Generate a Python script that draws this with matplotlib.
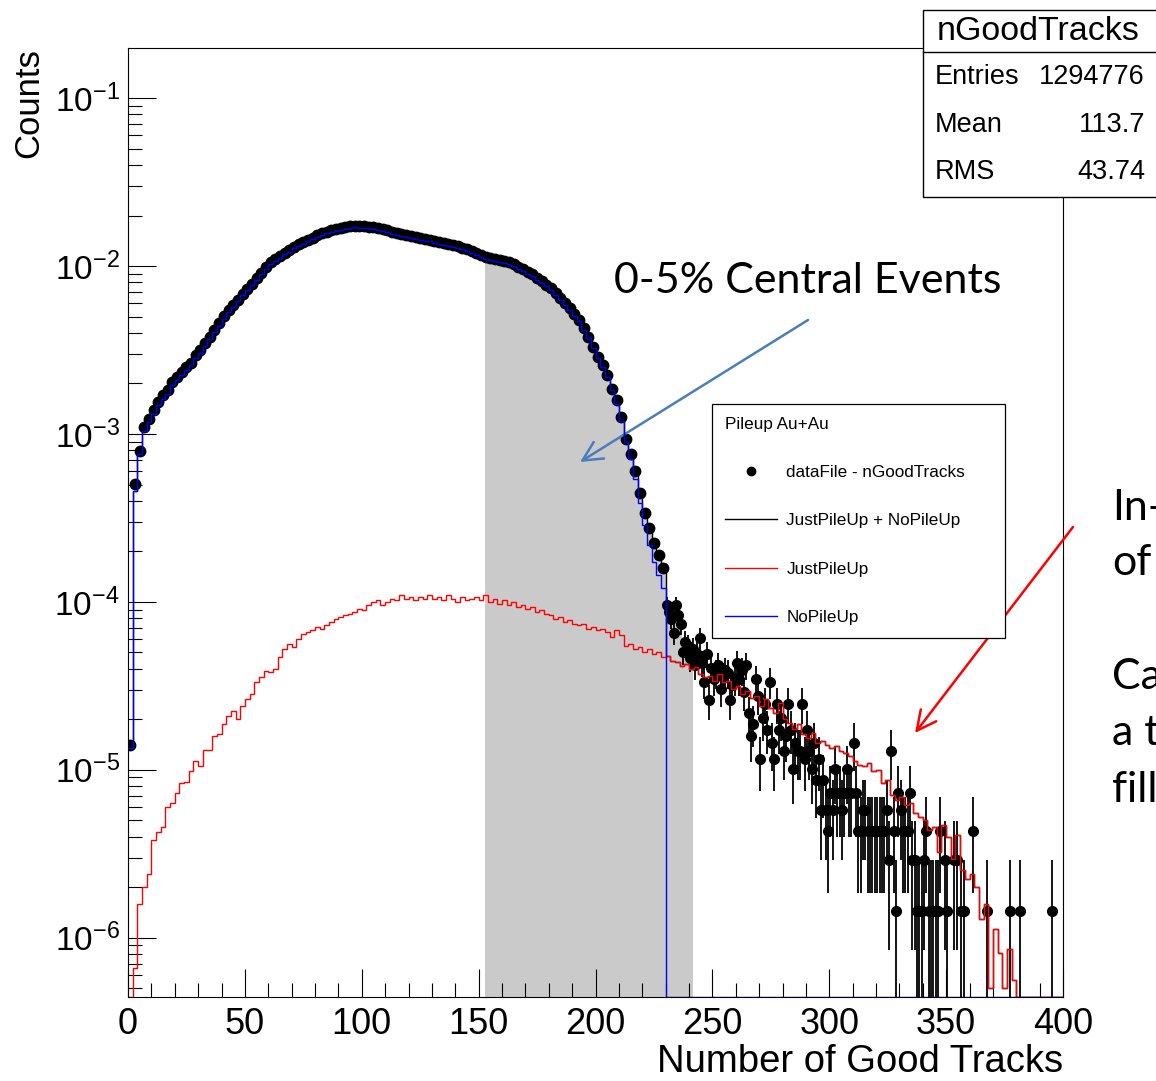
import numpy as np
import matplotlib.pyplot as plt
from matplotlib.lines import Line2D
from matplotlib.patches import Rectangle
from matplotlib.ticker import MultipleLocator, LogLocator, NullFormatter

plt.rcParams['font.family'] = ['Liberation Sans', 'DejaVu Sans']
plt.rcParams['mathtext.fontset'] = 'custom'
plt.rcParams['mathtext.rm'] = 'Liberation Sans'
plt.rcParams['mathtext.sf'] = 'Liberation Sans'

W, H = 1156, 1081

# ---- data ----
# data points, log10 of normalised counts, 2-track bins from 0 to 230
data_main_log = [
    -4.85, -3.30, -3.10, -2.96, -2.91, -2.86, -2.81, -2.77, -2.74, -2.69,
    -2.66, -2.63, -2.60, -2.575, -2.53, -2.50, -2.46, -2.42, -2.38, -2.34,
    -2.30, -2.26, -2.23, -2.20, -2.165, -2.135, -2.105, -2.07, -2.04, -2.005,
    -1.976, -1.96, -1.94, -1.92, -1.905, -1.885, -1.87, -1.856, -1.842, -1.83,
    -1.815, -1.805, -1.795, -1.787, -1.78, -1.774, -1.768, -1.763, -1.760, -1.762,
    -1.764, -1.766, -1.770, -1.775, -1.781, -1.788, -1.796, -1.802, -1.81, -1.816,
    -1.82, -1.826, -1.832, -1.838, -1.843, -1.85, -1.856, -1.862, -1.868, -1.875,
    -1.882, -1.89, -1.90, -1.91, -1.922, -1.935, -1.946, -1.952, -1.958, -1.964,
    -1.97, -1.976, -1.99, -2.005, -2.02, -2.035, -2.05, -2.07, -2.09, -2.11,
    -2.13, -2.16, -2.19, -2.22, -2.25, -2.285, -2.32, -2.37, -2.42, -2.48,
    -2.54, -2.59, -2.65, -2.73, -2.80, -2.90, -3.03, -3.12, -3.22, -3.35,
    -3.47, -3.56, -3.65, -3.72, -3.80,
]

# NoPileUp histogram, same bins
nopileup_log = [
    -4.87, -3.34, -3.12, -2.98, -2.93, -2.88, -2.83, -2.79, -2.76, -2.71,
    -2.68, -2.65, -2.62, -2.59, -2.55, -2.515, -2.475, -2.435, -2.395, -2.355,
    -2.315, -2.275, -2.245, -2.21, -2.175, -2.145, -2.115, -2.08, -2.05, -2.015,
    -1.987, -1.97, -1.95, -1.93, -1.915, -1.895, -1.88, -1.866, -1.852, -1.84,
    -1.825, -1.815, -1.805, -1.797, -1.79, -1.784, -1.778, -1.773, -1.77, -1.772,
    -1.774, -1.776, -1.78, -1.785, -1.791, -1.798, -1.806, -1.812, -1.82, -1.826,
    -1.83, -1.836, -1.842, -1.848, -1.853, -1.86, -1.866, -1.872, -1.878, -1.885,
    -1.892, -1.90, -1.91, -1.92, -1.932, -1.945, -1.956, -1.962, -1.968, -1.974,
    -1.98, -1.986, -2.0, -2.015, -2.03, -2.045, -2.06, -2.08, -2.10, -2.12,
    -2.14, -2.17, -2.20, -2.23, -2.26, -2.295, -2.33, -2.38, -2.43, -2.49,
    -2.55, -2.60, -2.66, -2.74, -2.82, -2.92, -3.05, -3.15, -3.27, -3.41,
    -3.54, -3.66, -3.76, -3.84, -3.92,
]

# JustPileUp histogram, 2-track bins from 0 to 380 (None = empty bin)
pileup_log = [
    None, -6.18, -5.80, -5.70, -5.62, -5.42, -5.37, -5.34, -5.22, -5.20,
    -5.14, -5.08, -5.07, -5.01, -4.95, -4.98, -4.88, -4.88, -4.80, -4.79,
    -4.73, -4.68, -4.65, -4.70, -4.62, -4.58, -4.55, -4.48, -4.45, -4.41,
    -4.42, -4.40, -4.33, -4.28, -4.25, -4.27, -4.22, -4.19, -4.18, -4.17,
    -4.15, -4.16, -4.14, -4.12, -4.10, -4.09, -4.08, -4.07, -4.06, -4.04,
    -4.05, -4.02, -4.00, -3.99, -4.02, -4.00, -3.98, -3.99, -3.96, -3.98,
    -3.97, -3.99, -3.97, -3.98, -3.96, -3.98, -3.97, -3.99, -3.96, -3.98,
    -4.00, -3.97, -3.99, -3.98, -3.97, -3.99, -3.96, -4.00, -3.98, -4.01,
    -3.99, -4.02, -4.00, -4.03, -4.02, -4.04, -4.03, -4.06, -4.05, -4.07,
    -4.08, -4.10, -4.09, -4.12, -4.11, -4.13, -4.14, -4.13, -4.16, -4.15,
    -4.17, -4.16, -4.18, -4.21, -4.17, -4.20, -4.26, -4.25, -4.28, -4.27,
    -4.30, -4.28, -4.31, -4.30, -4.33, -4.32, -4.35, -4.36, -4.38, -4.37,
    -4.40, -4.39, -4.43, -4.45, -4.44, -4.47, -4.43, -4.48, -4.47, -4.52,
    -4.50, -4.55, -4.53, -4.57, -4.56, -4.62, -4.58, -4.63, -4.66, -4.60,
    -4.70, -4.72, -4.76, -4.73, -4.79, -4.81, -4.78, -4.84, -4.83, -4.85,
    -4.87, -4.86, -4.89, -4.90, -4.92, -4.95, -4.97, -4.98, -4.96, -5.01,
    -5.00, -5.08, -5.06, -5.15, -5.18, -5.16, -5.21, -5.20, -5.26, -5.28,
    -5.30, -5.36, -5.34, -5.49, -5.33, -5.40, -5.53, -5.39, -5.60, -5.65,
    -5.62, -5.70, -5.89, -5.80, -6.30, -5.95, -6.09, -6.30, -6.07, -6.25,
]

# data tail: raw counts in 1-track bins from 230 to 400
tail_counts = [
    66, 60, 55, 45, 66, 58, 51, 35, 40, 38,
    32, 36, 29, 34, 42, 30, 23, 34, 18, 28,
    24, 26, 29, 21, 25, 27, 26, 18, 22, 24,
    30, 24, 27, 20, 29, 15, 11, 13, 24, 19,
    8, 14, 17, 12, 23, 10, 8, 17, 12, 14,
    9, 11, 17, 12, 7, 10, 9, 9, 17, 8,
    12, 9, 7, 10, 6, 8, 4, 6, 4, 3,
    5, 4, 7, 5, 5, 4, 5, 7, 5, 5,
    10, 5, 3, 3, 4, 4, 3, 3, 3, 3,
    3, 3, 3, 3, 4, 2, 9, 3, 1, 5,
    4, 3, 3, 3, 5, 2, 2, 1, 1, 1,
    2, 3, 1, 1, 1, 1, 1, 3, 0, 2,
    1, 0, 0, 2, 2, 0, 1, 1, 0, 0,
    0, 3, 0, 0, 0, 0, 0, 1, 0, 0,
    0, 0, 0, 0, 0, 0, 0, 1, 0, 0,
    0, 1, 0, 0, 0, 0, 0, 0, 0, 0,
    0, 0, 0, 0, 0, 1, 0, 0, 0, 0,
]
count_unit = 10 ** -5.84   # value of one entry after normalisation

cut_lo, cut_hi = 152.7, 241.7   # 0-5% centrality window
stats = [('Entries', '1294776'), ('Mean', '113.7'), ('RMS', '43.74')]

ymin, ymax = 4.43e-7, 0.1999

# ---- build histograms ----
edges = np.arange(0, 402, 2)
main_edges = edges[:116]
data_main = 10 ** np.array(data_main_log)
nopileup = np.zeros(200)
nopileup[:115] = 10 ** np.array(nopileup_log)
pileup = np.zeros(200)
pileup[:190] = [10 ** v if v is not None else 0.0 for v in pileup_log]
total = nopileup + pileup

tail_edges = np.arange(230, 401)
tail_counts = np.array(tail_counts)
tail_vals = tail_counts * count_unit


def floor_empty(v):
    return np.where(v > 0, v, ymin)


fig = plt.figure(figsize=(W / 100, H / 100), dpi=100)
ax = fig.add_axes([128 / W, 1 - 997 / H, 935 / W, 949.3 / H])
ax.set_yscale('log')

# grey band: data histogram inside the centrality window
lefts = np.concatenate([main_edges[:-1], tail_edges[:-1]])
rights = np.concatenate([main_edges[1:], tail_edges[1:]])
vals = np.concatenate([data_main, tail_vals])
sel = (rights > cut_lo) & (lefts < cut_hi)
fx = np.column_stack([np.clip(lefts[sel], cut_lo, cut_hi),
                      np.clip(rights[sel], cut_lo, cut_hi)]).ravel()
fy = np.repeat(vals[sel], 2)
ax.fill_between(fx, fy, ymin, color='#cacaca', lw=0, zorder=1)

# data points
ax.plot(main_edges[:-1] + 1, data_main, 'o', color='black', ms=7.5, zorder=3)
nz = tail_counts > 0
ax.errorbar(tail_edges[:-1][nz] + 0.5, tail_vals[nz],
            yerr=np.sqrt(tail_counts[nz]) * count_unit,
            fmt='o', color='black', ms=7, elinewidth=1.3, capsize=0, zorder=3)

ax.stairs(floor_empty(total), edges, color='black', lw=1.0, baseline=None, zorder=4)
ax.stairs(floor_empty(pileup), edges, color='red', lw=1.0, baseline=None, zorder=5)
ax.stairs(floor_empty(nopileup), edges, color='blue', lw=1.0, baseline=None, zorder=6)

ax.set_xlim(0, 400)
ax.set_ylim(ymin, ymax)
ax.xaxis.set_major_locator(MultipleLocator(50))
ax.xaxis.set_minor_locator(MultipleLocator(10))
ax.yaxis.set_major_locator(LogLocator(base=10))
ax.yaxis.set_minor_locator(LogLocator(base=10, subs=np.arange(2, 10)))
ax.yaxis.set_minor_formatter(NullFormatter())
ax.tick_params(which='both', direction='in', top=False, right=False, width=0.8, color='black')
ax.tick_params(which='major', length=20)
ax.tick_params(which='minor', length=10)
ax.tick_params(axis='x', labelsize=26, pad=7)
ax.tick_params(axis='y', labelsize=24, pad=6)
for s in ax.spines.values():
    s.set_linewidth(0.8)

ax.set_xlabel('Number of Good Tracks', fontsize=27.5, loc='right')
ax.xaxis.set_label_coords(1.0, -0.050)
ax.set_ylabel('Counts', fontsize=25, loc='top')
ax.yaxis.set_label_coords(-0.089, 1.0)

# legend
handles = [Line2D([], [], color='black', marker='o', ls='none', ms=6),
           Line2D([], [], color='black', lw=1),
           Line2D([], [], color='red', lw=1),
           Line2D([], [], color='blue', lw=1)]
labels = ['dataFile - nGoodTracks', 'JustPileUp + NoPileUp', 'JustPileUp', 'NoPileUp']
leg = ax.legend(handles, labels, title='Pileup Au+Au', alignment='left',
                loc='upper left', mode='expand',
                bbox_to_anchor=(712 / W, 1 - 404 / H - 0.01, 293 / W, 0.01),
                bbox_transform=fig.transFigure, borderaxespad=0,
                fontsize=12.3, title_fontsize=12.3, labelspacing=1.95,
                borderpad=0.75, handlelength=3.05, handletextpad=0.55,
                fancybox=False, framealpha=1, edgecolor='black')
leg.get_frame().set_linewidth(0.9)
leg.set_zorder(7)


def fpx(x, y):
    return (x / W, 1 - y / H)


# stats box
sx0, sy0, sy1, syl = 923, 10, 197, 52
fig.patches.append(Rectangle(fpx(sx0, sy1), 300 / W, (sy1 - sy0) / H,
                             transform=fig.transFigure, facecolor='white',
                             edgecolor='black', lw=1.0, zorder=10))
fig.add_artist(Line2D([sx0 / W, 1.0], [1 - syl / H, 1 - syl / H],
                      transform=fig.transFigure, color='black', lw=1.0, zorder=11))
fig.text(*fpx(937, 32), 'nGoodTracks', fontsize=24.5, ha='left', va='center', zorder=12)
for i, (k, v) in enumerate(stats):
    yy = 77 + 47.5 * i
    fig.text(*fpx(935, yy), k, fontsize=19.5, ha='left', va='center', zorder=12)
    fig.text(*fpx(1145, yy), v, fontsize=19.5, ha='right', va='center', zorder=12)

# slide annotations
fig.text(*fpx(614, 281), '0-5% Central Events', family=['Lato', 'DejaVu Sans'],
         fontsize=31, ha='left', va='center')
ax.annotate('', xy=fpx(580, 462), xytext=fpx(808, 320),
            xycoords='figure fraction', textcoords='figure fraction',
            arrowprops=dict(arrowstyle='->,head_length=1.4,head_width=0.7',
                            color='#4a7ebb', lw=1.8, shrinkA=0, shrinkB=0))
ax.annotate('', xy=fpx(915, 733), xytext=fpx(1073, 527),
            xycoords='figure fraction', textcoords='figure fraction',
            arrowprops=dict(arrowstyle='->,head_length=1.4,head_width=0.7',
                            color='red', lw=1.8, shrinkA=0, shrinkB=0))
for txt, yy in [('In-', 508), ('of', 563), ('Ca', 677), ('a t', 733), ('fill', 790)]:
    fig.text(*fpx(1112, yy), txt, family=['Lato', 'DejaVu Sans'],
             fontsize=31, ha='left', va='center')

fig.savefig('out.png', dpi=100)
